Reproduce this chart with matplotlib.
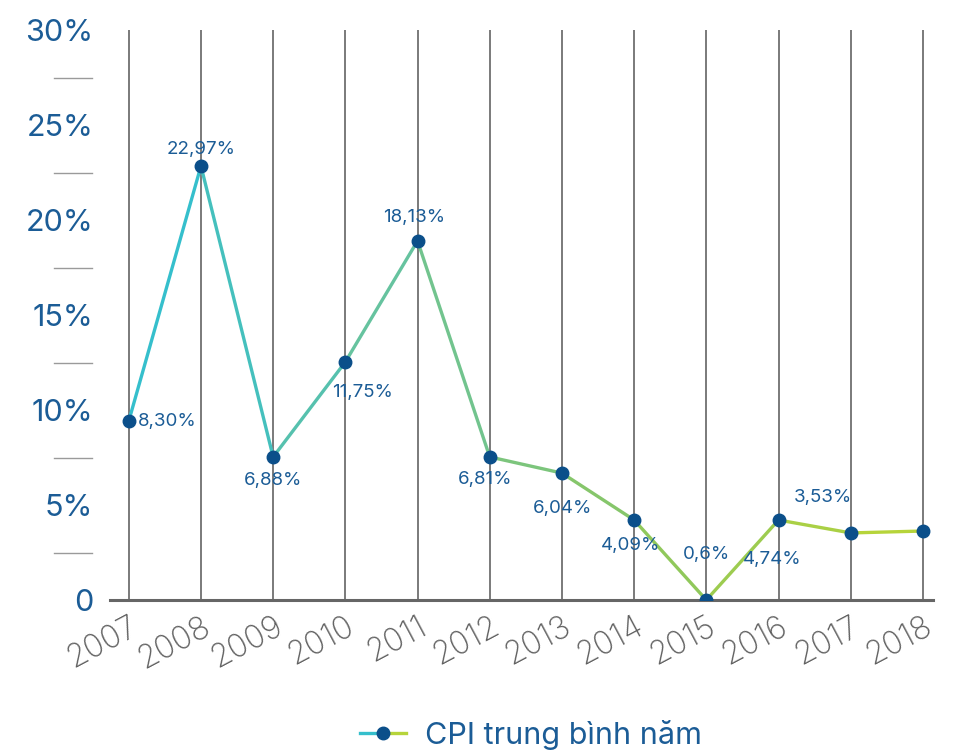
import matplotlib
matplotlib.use("Agg")
import matplotlib.pyplot as plt
import numpy as np
from matplotlib.collections import LineCollection
from matplotlib.colors import LinearSegmentedColormap
from matplotlib.legend_handler import HandlerBase
from matplotlib.lines import Line2D
import matplotlib.transforms as mtrans

years = ["2007", "2008", "2009", "2010", "2011", "2012", "2013", "2014", "2015", "2016", "2017", "2018"]
cpi = [9.42, 22.84, 7.53, 12.53, 18.9, 7.53, 6.68, 4.21, 0.0, 4.21, 3.53, 3.63]
labels = ["8,30%", "22,97%", "6,88%", "11,75%", "18,13%", "6,81%", "6,04%", "4,09%", "0,6%", "4,74%", "3,53%", ""]
y_ticks = [0, 5, 10, 15, 20, 25, 30]
y_tick_labels = ["0", "5%", "10%", "15%", "20%", "25%", "30%"]
y_minor = [2.5, 7.5, 12.5, 17.5, 22.5, 27.5]
series_name = "CPI trung bình năm"

# label offsets in pixels (dx, dy) and horizontal alignment
label_offsets = [(9, 0, "left"), (0, 17, "center"), (0, -24, "center"), (17, -31, "center"),
                 (-3, 23, "center"), (-5, -23, "center"), (1, -35, "center"), (-4, -25, "center"),
                 (0, 45, "center"), (-6, -39, "center"), (-28, 35, "center"), (0, 0, "center")]

plt.rcParams['font.family'] = ['Inter', 'DejaVu Sans']

BLUE = "#1b5c96"
DOT = "#0b4f8a"
cmap = LinearSegmentedColormap.from_list("g", ["#35bfcc", "#6cc39a", "#8cc75f", "#b6d43a"])

fig = plt.figure(figsize=(9.59, 7.52), dpi=100)
fig.patch.set_facecolor("white")
ax = fig.add_axes([110/959, 1-600/752, 823/959, 570/752])

x = np.arange(len(years))
ax.set_xlim(-0.26, 11.14)
ax.set_ylim(0, 30)

# vertical grid lines
for xi in x:
    ax.plot([xi, xi], [0, 30], color="#7a7a7a", lw=1.4, zorder=1, solid_capstyle="butt")

# gradient line
pts = np.column_stack([x, cpi])
segs = np.stack([pts[:-1], pts[1:]], axis=1)
lc = LineCollection(segs, cmap=cmap, linewidth=2.4, zorder=3, capstyle="round")
lc.set_array(np.linspace(0, 1, len(segs)))
ax.add_collection(lc)
ax.plot(x, cpi, linestyle="none", marker="o", markersize=9, color=DOT, zorder=4)

for xi, yi, lab, (dx, dy, ha) in zip(x, cpi, labels, label_offsets):
    if lab:
        ax.annotate(lab, (xi, yi), xytext=(dx, dy), textcoords="offset pixels",
                    ha=ha, va="center", fontsize=13.5, color=BLUE, zorder=5)

# spines
for s in ["top", "right", "left"]:
    ax.spines[s].set_visible(False)
ax.spines["bottom"].set_color("#666666")
ax.spines["bottom"].set_linewidth(2.2)
ax.spines["bottom"].set_zorder(2)

ax.set_yticks(y_ticks)
ax.set_yticklabels(y_tick_labels, fontsize=22, color=BLUE)
ax.tick_params(axis="y", length=0, pad=12)
ax.set_xticks(x)
ax.set_xticklabels(years, fontsize=23, color="#5f5f5f", rotation=28, ha="right",
                   rotation_mode="anchor", fontweight="light")
ax.tick_params(axis="x", length=0, pad=8)

trans = mtrans.blended_transform_factory(ax.transAxes, ax.transData)
for ym in y_minor:
    ax.plot([-56/823, -18/823], [ym, ym], transform=trans, color="#9a9a9a", lw=1.0, clip_on=False)


class GradHandler(HandlerBase):
    def create_artists(self, legend, orig_handle, xdescent, ydescent, width, height, fontsize, trans):
        y = height / 2 - ydescent
        l1 = Line2D([-xdescent, width / 2], [y, y], color="#35bfcc", lw=2.4, transform=trans)
        l2 = Line2D([width / 2, width], [y, y], color="#b6d43a", lw=2.4, transform=trans)
        m = Line2D([width / 2], [y], marker="o", markersize=9, color=DOT, linestyle="none", transform=trans)
        return [l1, l2, m]


h = Line2D([], [])
fig.legend([h], [series_name], handler_map={Line2D: GradHandler()}, loc="center",
           bbox_to_anchor=(531/959, 1-735/752), frameon=False, fontsize=22,
           labelcolor=BLUE, handlelength=1.5, handletextpad=0.6)

fig.savefig("out.png", dpi=100, facecolor="white")
